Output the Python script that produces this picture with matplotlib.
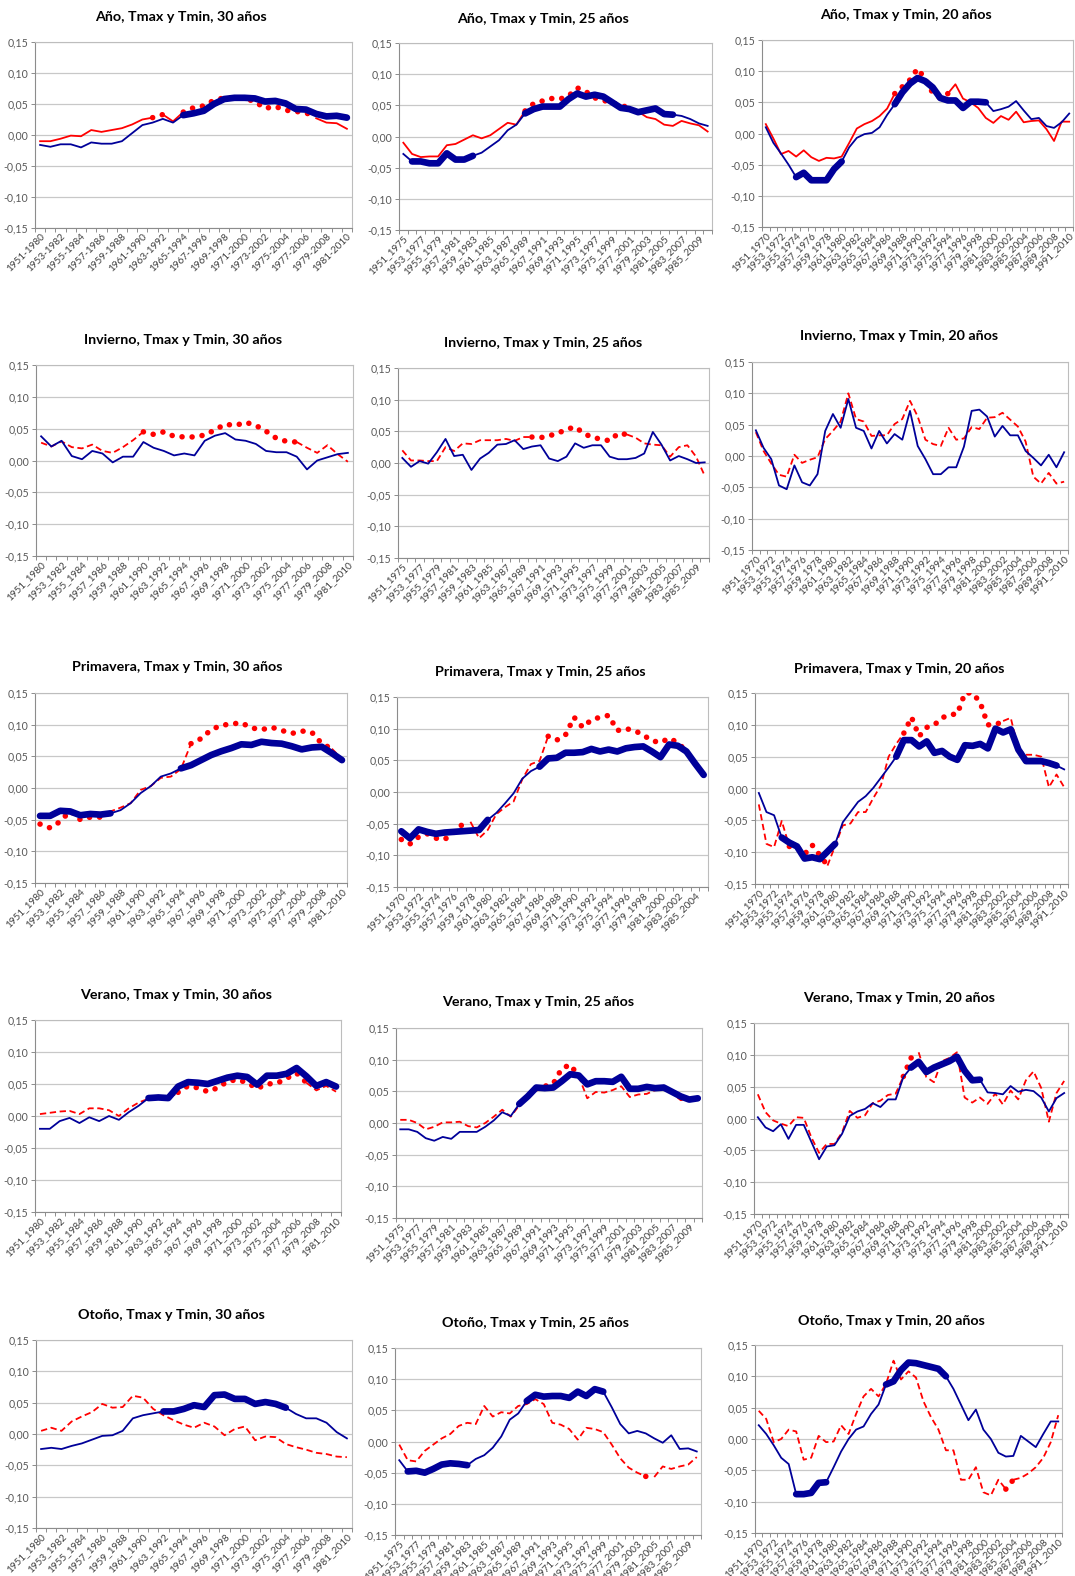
#tendencias de Tmax y Tmin por ventanas moviles de 30, 25 y 20 años (año y estaciones)
#rojo = Tmax, azul = Tmin; tramos gruesos/punteados = tendencia significativa

import numpy as np
import matplotlib.pyplot as plt

plt.rcParams['font.family'] = ['Lato', 'DejaVu Sans']

W, H = 1075, 1576  # tamaño de la figura en pixeles
ROJO = '#ff0000'
AZUL = '#000099'
GRIS = '#595959'

# categorias (ventanas moviles)
cat30_guion = [f'{a}-{a + 29}' for a in range(1951, 1982)]
cat30 = [f'{a}_{a + 29}' for a in range(1951, 1982)]
cat25 = [f'{a}_{a + 24}' for a in range(1951, 1987)]
cat25_prim = [f'{a}_{a + 19}' for a in range(1951, 1987)]  # asi vienen rotuladas en el original
cat20 = [f'{a}_{a + 19}' for a in range(1951, 1992)]

yticks = [-0.15, -0.10, -0.05, 0.0, 0.05, 0.10, 0.15]
ytick_txt = ['-0,15', '-0,10', '-0,05', '0,00', '0,05', '0,10', '0,15']

# ---------- Año ----------
ano30_tmax = [-0.010, -0.010, -0.006, -0.001, -0.002, 0.008, 0.005, 0.008, 0.011, 0.017,
              0.025, 0.028, 0.033, 0.022, 0.037, 0.044, 0.047, 0.056, 0.060, 0.060,
              0.059, 0.054, 0.043, 0.046, 0.040, 0.038, 0.036, 0.027, 0.020, 0.019,
              0.010]
ano30_tmax_sig = [(11, 12), (14, 27)]
ano30_tmin = [-0.016, -0.019, -0.015, -0.015, -0.020, -0.012, -0.014, -0.014, -0.010, 0.003,
              0.016, 0.020, 0.026, 0.020, 0.032, 0.035, 0.039, 0.050, 0.058, 0.060,
              0.060, 0.059, 0.054, 0.055, 0.051, 0.042, 0.041, 0.034, 0.030, 0.031,
              0.028]
ano30_tmin_sig = [(14, 30)]

ano25_tmax = [-0.010, -0.028, -0.033, -0.032, -0.032, -0.014, -0.012, -0.005, 0.002, -0.003,
              0.002, 0.012, 0.022, 0.019, 0.041, 0.053, 0.057, 0.061, 0.060, 0.065,
              0.078, 0.072, 0.062, 0.058, 0.054, 0.050, 0.046, 0.040, 0.031, 0.028,
              0.019, 0.017, 0.025, 0.021, 0.018, 0.008]
ano25_tmax_sig = [(14, 26)]
ano25_tmin = [-0.028, -0.040, -0.040, -0.043, -0.043, -0.027, -0.037, -0.037, -0.031, -0.026,
              -0.016, -0.006, 0.010, 0.019, 0.037, 0.044, 0.048, 0.048, 0.048, 0.060,
              0.069, 0.064, 0.067, 0.064, 0.055, 0.046, 0.044, 0.039, 0.042, 0.045,
              0.036, 0.035, 0.033, 0.028, 0.021, 0.017]
ano25_tmin_sig = [(1, 8), (14, 31)]

ano20_tmax = [0.015, -0.008, -0.033, -0.028, -0.037, -0.027, -0.038, -0.044, -0.039, -0.040,
              -0.037, -0.015, 0.008, 0.015, 0.020, 0.028, 0.040, 0.064, 0.075, 0.086,
              0.104, 0.088, 0.065, 0.057, 0.064, 0.079, 0.056, 0.050, 0.041, 0.025,
              0.017, 0.028, 0.022, 0.035, 0.018, 0.020, 0.021, 0.007, -0.012, 0.019,
              0.019]
ano20_tmax_sig = [(17, 24)]
ano20_tmin = [0.010, -0.015, -0.032, -0.050, -0.070, -0.063, -0.075, -0.075, -0.075, -0.057,
              -0.045, -0.022, -0.007, -0.001, 0.001, 0.010, 0.030, 0.047, 0.066, 0.080,
              0.089, 0.084, 0.074, 0.057, 0.053, 0.053, 0.041, 0.051, 0.051, 0.050,
              0.036, 0.039, 0.043, 0.052, 0.037, 0.023, 0.025, 0.012, 0.009, 0.018,
              0.032]
ano20_tmin_sig = [(4, 10), (17, 29)]

# ---------- Invierno ----------
inv30_tmax = [0.028, 0.022, 0.030, 0.021, 0.019, 0.025, 0.015, 0.012, 0.021, 0.032,
              0.045, 0.041, 0.045, 0.038, 0.037, 0.037, 0.040, 0.048, 0.057, 0.055,
              0.060, 0.055, 0.046, 0.035, 0.030, 0.029, 0.020, 0.012, 0.024, 0.010,
              -0.002]
inv30_tmax_sig = [(10, 25)]
inv30_tmin = [0.038, 0.022, 0.031, 0.007, 0.002, 0.015, 0.011, -0.003, 0.006, 0.006,
              0.029, 0.020, 0.015, 0.008, 0.011, 0.008, 0.031, 0.039, 0.043, 0.033,
              0.031, 0.026, 0.015, 0.013, 0.013, 0.006, -0.014, 0.000, 0.005, 0.010,
              0.012]
inv30_tmin_sig = []

inv25_tmax = [0.020, 0.004, 0.004, 0.003, 0.003, 0.025, 0.019, 0.031, 0.030, 0.036,
              0.036, 0.036, 0.038, 0.035, 0.041, 0.041, 0.040, 0.043, 0.047, 0.053,
              0.057, 0.047, 0.040, 0.038, 0.035, 0.047, 0.045, 0.040, 0.031, 0.029,
              0.028, 0.010, 0.025, 0.028, 0.010, -0.020]
inv25_tmax_sig = [(15, 26)]
inv25_tmin = [0.008, -0.006, 0.003, -0.001, 0.017, 0.038, 0.011, 0.013, -0.011, 0.007,
              0.016, 0.029, 0.030, 0.036, 0.022, 0.026, 0.028, 0.007, 0.003, 0.010,
              0.031, 0.024, 0.028, 0.028, 0.010, 0.006, 0.006, 0.008, 0.015, 0.049,
              0.029, 0.004, 0.011, 0.006, 0.000, 0.001]
inv25_tmin_sig = []

inv20_tmax = [0.038, 0.008, -0.012, -0.030, -0.033, 0.002, -0.011, -0.006, -0.002, 0.027,
              0.040, 0.055, 0.100, 0.059, 0.055, 0.032, 0.033, 0.033, 0.051, 0.059,
              0.088, 0.063, 0.026, 0.019, 0.016, 0.045, 0.026, 0.028, 0.046, 0.043,
              0.061, 0.062, 0.069, 0.058, 0.047, 0.023, -0.033, -0.044, -0.027, -0.044,
              -0.041]
inv20_tmax_sig = []
inv20_tmin = [0.041, 0.013, -0.005, -0.047, -0.053, -0.015, -0.042, -0.047, -0.029, 0.040,
              0.067, 0.045, 0.091, 0.045, 0.040, 0.012, 0.040, 0.020, 0.035, 0.026,
              0.072, 0.016, -0.005, -0.029, -0.029, -0.018, -0.018, 0.015, 0.072, 0.074,
              0.063, 0.031, 0.048, 0.033, 0.033, 0.008, -0.003, -0.015, 0.002, -0.018,
              0.006]
inv20_tmin_sig = []

# ---------- Primavera ----------
prim30_tmax = [-0.057, -0.063, -0.053, -0.036, -0.050, -0.046, -0.046, -0.037, -0.031, -0.024,
               -0.003, 0.003, 0.016, 0.018, 0.030, 0.070, 0.078, 0.092, 0.099, 0.101,
               0.103, 0.095, 0.092, 0.096, 0.091, 0.086, 0.090, 0.088, 0.070, 0.062,
               0.046]
prim30_tmax_sig = [(0, 6), (15, 29)]
prim30_tmin = [-0.044, -0.044, -0.036, -0.037, -0.043, -0.041, -0.042, -0.040, -0.035, -0.024,
               -0.008, 0.003, 0.018, 0.023, 0.031, 0.036, 0.044, 0.052, 0.058, 0.063,
               0.069, 0.068, 0.073, 0.071, 0.070, 0.066, 0.061, 0.064, 0.065, 0.055,
               0.044]
prim30_tmin_sig = [(0, 7), (14, 30)]

prim25_tmax = [-0.075, -0.082, -0.071, -0.066, -0.073, -0.075, -0.065, -0.052, -0.047, -0.073,
               -0.060, -0.035, -0.024, -0.015, 0.020, 0.044, 0.049, 0.088, 0.082, 0.090,
               0.118, 0.102, 0.114, 0.118, 0.121, 0.097, 0.100, 0.097, 0.090, 0.081,
               0.078, 0.085, 0.078, 0.064, 0.045, 0.028]
prim25_tmax_sig = [(0, 8), (17, 33)]
prim25_tmin = [-0.062, -0.073, -0.059, -0.063, -0.066, -0.064, -0.063, -0.062, -0.061, -0.060,
               -0.044, -0.033, -0.018, -0.002, 0.021, 0.033, 0.040, 0.053, 0.054, 0.062,
               0.062, 0.063, 0.068, 0.064, 0.067, 0.064, 0.069, 0.071, 0.072, 0.064,
               0.055, 0.075, 0.073, 0.064, 0.045, 0.027]
prim25_tmin_sig = [(0, 10), (16, 35)]

prim20_tmax = [-0.025, -0.087, -0.092, -0.051, -0.091, -0.092, -0.103, -0.089, -0.105, -0.121,
               -0.090, -0.058, -0.055, -0.037, -0.037, -0.015, 0.005, 0.050, 0.070, 0.087,
               0.112, 0.082, 0.096, 0.100, 0.111, 0.116, 0.117, 0.150, 0.150, 0.135,
               0.100, 0.100, 0.106, 0.111, 0.062, 0.053, 0.053, 0.050, 0.002, 0.022,
               0.002]
prim20_tmax_sig = [(4, 9), (19, 32)]
prim20_tmin = [-0.007, -0.037, -0.042, -0.077, -0.085, -0.091, -0.110, -0.108, -0.111, -0.099,
               -0.087, -0.053, -0.037, -0.021, -0.012, 0.001, 0.017, 0.033, 0.050, 0.076,
               0.076, 0.066, 0.074, 0.056, 0.059, 0.050, 0.045, 0.068, 0.067, 0.070,
               0.063, 0.094, 0.088, 0.093, 0.061, 0.043, 0.043, 0.043, 0.040, 0.036,
               0.030]
prim20_tmin_sig = [(3, 10), (18, 39)]

# ---------- Verano ----------
ver30_tmax = [0.003, 0.005, 0.007, 0.008, 0.003, 0.012, 0.012, 0.009, 0.000, 0.012,
              0.021, 0.027, 0.028, 0.027, 0.037, 0.047, 0.044, 0.038, 0.044, 0.054,
              0.057, 0.052, 0.043, 0.050, 0.051, 0.059, 0.067, 0.052, 0.040, 0.047,
              0.038]
ver30_tmax_sig = [(14, 27)]
ver30_tmin = [-0.020, -0.020, -0.008, -0.003, -0.011, -0.002, -0.008, 0.000, -0.006, 0.006,
              0.016, 0.028, 0.029, 0.028, 0.046, 0.053, 0.052, 0.050, 0.055, 0.060,
              0.063, 0.061, 0.049, 0.063, 0.063, 0.066, 0.075, 0.062, 0.047, 0.053,
              0.046]
ver30_tmin_sig = [(11, 30)]

ver25_tmax = [0.005, 0.005, 0.000, -0.010, -0.006, 0.001, 0.001, 0.002, -0.005, -0.007,
              0.000, 0.010, 0.021, 0.010, 0.028, 0.045, 0.054, 0.058, 0.062, 0.086,
              0.092, 0.074, 0.039, 0.049, 0.048, 0.052, 0.058, 0.041, 0.045, 0.046,
              0.052, 0.059, 0.047, 0.036, 0.038, 0.040]
ver25_tmax_sig = [(16, 21)]
ver25_tmin = [-0.010, -0.010, -0.014, -0.024, -0.028, -0.022, -0.025, -0.014, -0.014, -0.014,
              -0.006, 0.004, 0.017, 0.011, 0.030, 0.042, 0.056, 0.055, 0.056, 0.066,
              0.077, 0.075, 0.061, 0.066, 0.066, 0.065, 0.073, 0.054, 0.054, 0.057,
              0.055, 0.056, 0.049, 0.042, 0.037, 0.039]
ver25_tmin_sig = [(14, 35)]

ver20_tmax = [0.038, 0.010, -0.003, -0.008, -0.012, 0.002, 0.001, -0.030, -0.054, -0.040,
              -0.040, -0.022, 0.012, 0.001, 0.005, 0.024, 0.028, 0.037, 0.039, 0.066,
              0.095, 0.104, 0.065, 0.057, 0.090, 0.095, 0.104, 0.033, 0.025, 0.033,
              0.023, 0.039, 0.022, 0.044, 0.030, 0.060, 0.074, 0.048, -0.005, 0.040,
              0.059]
ver20_tmax_sig = [(19, 21)]
ver20_tmin = [0.002, -0.014, -0.020, -0.009, -0.032, -0.010, -0.010, -0.037, -0.064, -0.044,
              -0.042, -0.024, 0.004, 0.011, 0.015, 0.024, 0.018, 0.030, 0.030, 0.065,
              0.080, 0.089, 0.073, 0.080, 0.085, 0.090, 0.097, 0.075, 0.060, 0.061,
              0.041, 0.040, 0.038, 0.051, 0.042, 0.045, 0.043, 0.033, 0.011, 0.032,
              0.040]
ver20_tmin_sig = [(20, 29)]

# ---------- Otoño ----------
oto30_tmax = [0.005, 0.010, 0.005, 0.020, 0.028, 0.035, 0.048, 0.042, 0.043, 0.061,
              0.058, 0.040, 0.030, 0.022, 0.015, 0.010, 0.018, 0.012, -0.002, 0.008,
              0.012, -0.010, -0.004, -0.005, -0.016, -0.021, -0.025, -0.030, -0.032, -0.036,
              -0.037]
oto30_tmax_sig = []
oto30_tmin = [-0.024, -0.022, -0.024, -0.019, -0.015, -0.009, -0.003, -0.002, 0.005, 0.025,
              0.030, 0.033, 0.036, 0.036, 0.040, 0.046, 0.043, 0.062, 0.063, 0.056,
              0.056, 0.048, 0.051, 0.048, 0.042, 0.032, 0.025, 0.025, 0.018, 0.003,
              -0.007]
oto30_tmin_sig = [(12, 24)]

oto25_tmax = [-0.005, -0.030, -0.032, -0.015, -0.005, 0.005, 0.012, 0.025, 0.030, 0.028,
              0.057, 0.040, 0.047, 0.045, 0.057, 0.060, 0.068, 0.060, 0.030, 0.027,
              0.020, 0.003, 0.022, 0.020, 0.015, -0.005, -0.027, -0.042, -0.050, -0.056,
              -0.057, -0.040, -0.044, -0.040, -0.037, -0.025]
oto25_tmax_sig = [(29, 30)]
oto25_tmin = [-0.030, -0.048, -0.047, -0.050, -0.044, -0.037, -0.035, -0.036, -0.038, -0.028,
              -0.022, -0.010, 0.008, 0.035, 0.045, 0.065, 0.075, 0.072, 0.073, 0.073,
              0.070, 0.080, 0.073, 0.084, 0.080, 0.055, 0.028, 0.013, 0.017, 0.013,
              0.005, -0.002, 0.010, -0.012, -0.011, -0.016]
oto25_tmin_sig = [(1, 8), (15, 24)]

oto20_tmax = [0.045, 0.032, -0.005, 0.000, 0.015, 0.012, -0.033, -0.030, 0.005, -0.005,
              -0.004, 0.022, 0.008, 0.040, 0.068, 0.080, 0.068, 0.088, 0.125, 0.095,
              0.108, 0.098, 0.060, 0.035, 0.015, -0.018, -0.018, -0.065, -0.065, -0.045,
              -0.085, -0.090, -0.065, -0.080, -0.065, -0.062, -0.055, -0.045, -0.030, -0.005,
              0.038]
oto20_tmax_sig = [(33, 34)]
oto20_tmin = [0.022, 0.008, -0.010, -0.030, -0.040, -0.088, -0.088, -0.086, -0.070, -0.069,
              -0.045, -0.020, 0.000, 0.015, 0.020, 0.040, 0.055, 0.087, 0.092, 0.110,
              0.122, 0.121, 0.118, 0.115, 0.112, 0.100, 0.080, 0.055, 0.030, 0.047,
              0.015, 0.000, -0.022, -0.028, -0.027, 0.005, -0.004, -0.013, 0.008, 0.028,
              0.028]
oto20_tmin_sig = [(5, 9), (17, 25)]

# titulo, categorias, Tmax, sig Tmax, Tmin, sig Tmin, trazo de Tmax no significativa
paneles = [
    ('Año, Tmax y Tmin, 30 años', cat30_guion, ano30_tmax, ano30_tmax_sig, ano30_tmin, ano30_tmin_sig, 'linea'),
    ('Año, Tmax y Tmin, 25 años', cat25, ano25_tmax, ano25_tmax_sig, ano25_tmin, ano25_tmin_sig, 'linea'),
    ('Año, Tmax y Tmin, 20 años', cat20, ano20_tmax, ano20_tmax_sig, ano20_tmin, ano20_tmin_sig, 'linea'),
    ('Invierno, Tmax y Tmin, 30 años', cat30, inv30_tmax, inv30_tmax_sig, inv30_tmin, inv30_tmin_sig, 'guion'),
    ('Invierno, Tmax y Tmin, 25 años', cat25, inv25_tmax, inv25_tmax_sig, inv25_tmin, inv25_tmin_sig, 'guion'),
    ('Invierno, Tmax y Tmin, 20 años', cat20, inv20_tmax, inv20_tmax_sig, inv20_tmin, inv20_tmin_sig, 'guion'),
    ('Primavera, Tmax y Tmin, 30 años', cat30, prim30_tmax, prim30_tmax_sig, prim30_tmin, prim30_tmin_sig, 'guion'),
    ('Primavera, Tmax y Tmin, 25 años', cat25_prim, prim25_tmax, prim25_tmax_sig, prim25_tmin, prim25_tmin_sig, 'guion'),
    ('Primavera, Tmax y Tmin, 20 años', cat20, prim20_tmax, prim20_tmax_sig, prim20_tmin, prim20_tmin_sig, 'guion'),
    ('Verano, Tmax y Tmin, 30 años', cat30, ver30_tmax, ver30_tmax_sig, ver30_tmin, ver30_tmin_sig, 'guion'),
    ('Verano, Tmax y Tmin, 25 años', cat25, ver25_tmax, ver25_tmax_sig, ver25_tmin, ver25_tmin_sig, 'guion'),
    ('Verano, Tmax y Tmin, 20 años', cat20, ver20_tmax, ver20_tmax_sig, ver20_tmin, ver20_tmin_sig, 'guion'),
    ('Otoño, Tmax y Tmin, 30 años', cat30, oto30_tmax, oto30_tmax_sig, oto30_tmin, oto30_tmin_sig, 'guion'),
    ('Otoño, Tmax y Tmin, 25 años', cat25, oto25_tmax, oto25_tmax_sig, oto25_tmin, oto25_tmin_sig, 'guion'),
    ('Otoño, Tmax y Tmin, 20 años', cat20, oto20_tmax, oto20_tmax_sig, oto20_tmin, oto20_tmin_sig, 'guion'),
]

# area de trazado en pixeles (izq, arriba, der, abajo) y centro del titulo
cajas = [(35, 42, 352, 228), (399, 43, 712, 230), (762, 40, 1073, 227),
         (36, 365, 353, 556), (398, 368, 709, 558), (752, 362, 1068, 550),
         (35, 693, 347, 883), (397, 697, 708, 887), (755, 693, 1068, 884),
         (35, 1020, 341, 1212), (396, 1028, 702, 1218), (754, 1023, 1068, 1214),
         (36, 1340, 352, 1528), (395, 1348, 701, 1535), (755, 1345, 1062, 1533)]
pos_titulo = [(181, 17), (543, 19), (906, 15),
              (183, 340), (543, 343), (899, 336),
              (177, 667), (540, 672), (899, 669),
              (176, 995), (538, 1002), (899, 998),
              (171, 1315), (535, 1323), (891, 1321)]

# estilos
rojo_sig = dict(color=ROJO, lw=4.0, linestyle=(0, (0.01, 1.8)), dash_capstyle='round', zorder=3)
rojo_linea = dict(color=ROJO, lw=1.3, zorder=3)
rojo_guion = dict(color=ROJO, lw=1.3, linestyle=(0, (3.5, 2.0)), zorder=3)
azul_sig = dict(color=AZUL, lw=4.8, solid_capstyle='round', solid_joinstyle='round', zorder=4)
azul_linea = dict(color=AZUL, lw=1.3, zorder=4)


def tramos(n, spans):
    # un segmento (k, k+1) es significativo si sus dos extremos lo son
    marca = np.zeros(n, dtype=bool)
    for a, b in spans:
        marca[a:b + 1] = True
    seg = marca[:-1] & marca[1:]
    res = []
    ini = 0
    for k in range(1, n):
        if k == n - 1 or seg[k] != seg[ini]:
            res.append((ini, k, seg[ini]))
            ini = k
    return res


def dibuja(ax, y, spans, kw_sig, kw_nosig):
    y = np.asarray(y)
    x = np.arange(len(y))
    for a, b, s in tramos(len(y), spans):
        ax.plot(x[a:b + 1], y[a:b + 1], **(kw_sig if s else kw_nosig))


fig = plt.figure(figsize=(W / 100, H / 100), dpi=100)

for i, (titulo, cats, tmax, tmax_sig, tmin, tmin_sig, trazo) in enumerate(paneles):
    l, t, r, b = cajas[i]
    ax = fig.add_axes([l / W, 1 - b / H, (r - l) / W, (b - t) / H])
    n = len(cats)

    dibuja(ax, tmax, tmax_sig, rojo_sig, rojo_linea if trazo == 'linea' else rojo_guion)
    dibuja(ax, tmin, tmin_sig, azul_sig, azul_linea)

    ax.set_xlim(-0.5, n - 0.5)
    ax.set_ylim(-0.15, 0.15)
    ax.set_yticks(yticks)
    ax.set_yticklabels(ytick_txt)
    ax.set_xticks(range(0, n, 2))
    ax.set_xticklabels(cats[::2], rotation=45, ha='right', rotation_mode='anchor')
    ax.set_xticks(np.arange(-0.5, n, 1), minor=True)
    ax.tick_params(axis='x', which='major', length=0, pad=3, labelsize=7.2, labelcolor='#404040')
    ax.tick_params(axis='x', which='minor', length=3, width=0.7, color='#8c8c8c')
    ax.tick_params(axis='y', length=3, width=0.7, color='#8c8c8c', labelsize=7.6,
                   labelcolor=GRIS, pad=2)
    ax.grid(axis='y', color='#c8c8c8', lw=0.9)
    ax.set_axisbelow(True)
    for lado, sp in ax.spines.items():
        sp.set_linewidth(0.8)
        sp.set_color('#8c8c8c' if lado in ('left', 'bottom') else '#bdbdbd')

    tx, ty = pos_titulo[i]
    fig.text(tx / W, 1 - ty / H, titulo, ha='center', va='center', fontsize=10.3,
             fontweight='bold', color='black')

fig.savefig('out.png', dpi=100)
